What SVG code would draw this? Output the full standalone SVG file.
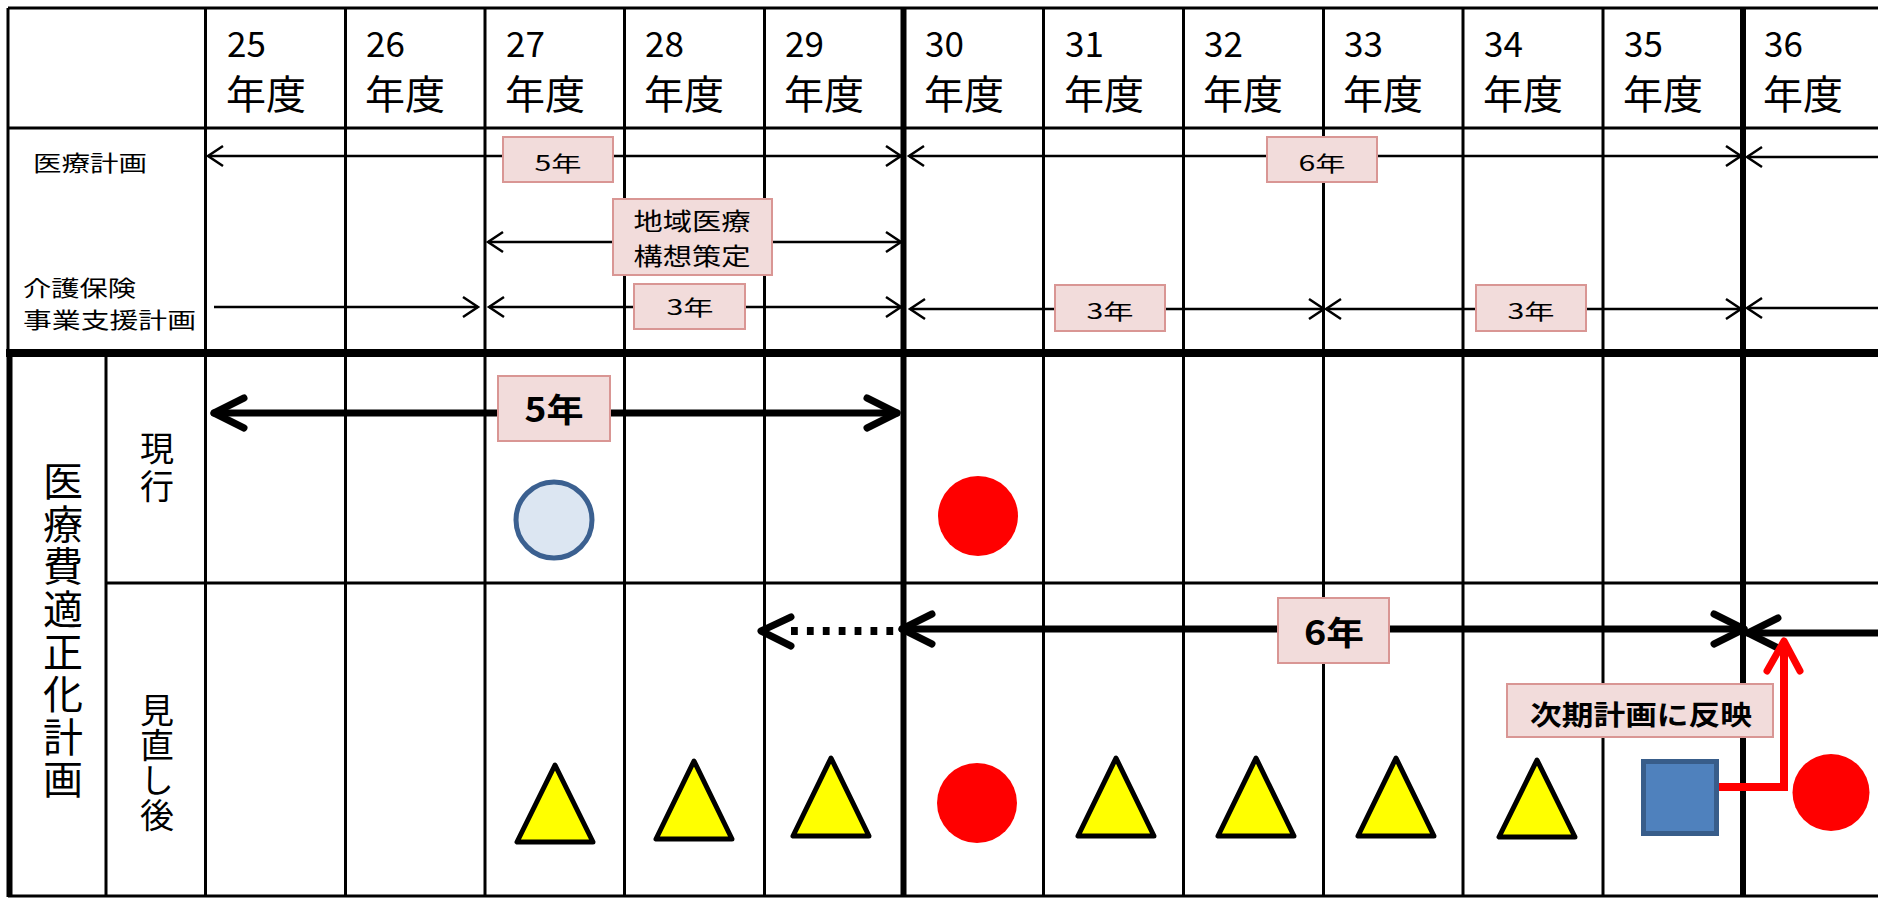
<svg xmlns="http://www.w3.org/2000/svg" width="1878" height="900" viewBox="0 0 1878 900">
<style>
.bg{fill:#fff}
.g{stroke:#000;stroke-width:3;fill:none}
.gk{stroke:#000;stroke-width:6;fill:none}
.thin{stroke:#000;stroke-width:2.5;fill:none}
.thick{stroke:#000;stroke-width:7;fill:none;stroke-linecap:round;stroke-linejoin:round}
.dot{stroke:#000;stroke-width:8;fill:none;stroke-dasharray:6.8 9.1}
.red{stroke:#ff0000;stroke-width:8;fill:none;stroke-linejoin:miter}
.redh{stroke:#ff0000;stroke-width:7;fill:none;stroke-linecap:round;stroke-linejoin:round}
.lbl{fill:#f2dcdb;stroke:#d99694;stroke-width:2}
.t{font-family:"Noto Sans CJK JP","Noto Sans",sans-serif;fill:#000}
.hd{font-size:40px}
.num{font-size:35px}
.sm{font-size:22px}
.bx{font-size:21px;text-anchor:middle}
.bb{font-size:33px;font-weight:bold;text-anchor:middle}
.vt{writing-mode:vertical-rl;text-orientation:upright}
.tri{fill:#ffff00;stroke:#000;stroke-width:5;stroke-linejoin:round}
.rc{fill:#ff0000}
</style>
<defs>
<marker id="ah" viewBox="-18 -13 22 26" refX="0" refY="0" markerWidth="22" markerHeight="26" markerUnits="userSpaceOnUse" orient="auto-start-reverse">
<path d="M-15,-10 L0,0 L-15,10" fill="none" stroke="#000" stroke-width="2.5"/>
</marker>
<marker id="ahb" viewBox="-36 -21 42 42" refX="0" refY="0" markerWidth="42" markerHeight="42" markerUnits="userSpaceOnUse" orient="auto-start-reverse">
<path d="M-30,-15 L0,0 L-30,15" fill="none" stroke="#000" stroke-width="7" stroke-linecap="round" stroke-linejoin="round"/>
</marker>
</defs>
<rect class="bg" x="0" y="0" width="1878" height="900"/>

<g id="grid">
<line class="g" x1="8" y1="8" x2="1878" y2="8"/>
<line class="g" x1="8" y1="128" x2="1878" y2="128"/>
<line class="g" x1="106" y1="583" x2="1878" y2="583"/>
<line class="g" x1="8" y1="896" x2="1878" y2="896"/>
<line class="g" x1="8" y1="8" x2="8" y2="353"/>
<line class="g" x1="106" y1="353" x2="106" y2="896"/>
<line class="g" x1="205.5" y1="8" x2="205.5" y2="896"/>
<line class="g" x1="345.5" y1="8" x2="345.5" y2="896"/>
<line class="g" x1="485" y1="8" x2="485" y2="896"/>
<line class="g" x1="624.5" y1="8" x2="624.5" y2="896"/>
<line class="g" x1="764.5" y1="8" x2="764.5" y2="896"/>
<line class="g" x1="1043.5" y1="8" x2="1043.5" y2="896"/>
<line class="g" x1="1183.5" y1="8" x2="1183.5" y2="896"/>
<line class="g" x1="1323.5" y1="8" x2="1323.5" y2="896"/>
<line class="g" x1="1463" y1="8" x2="1463" y2="896"/>
<line class="g" x1="1603" y1="8" x2="1603" y2="896"/>
<line class="gk" x1="903.5" y1="7" x2="903.5" y2="897"/>
<line class="gk" x1="1743" y1="7" x2="1743" y2="897"/>
<line class="gk" x1="9.5" y1="353" x2="9.5" y2="897"/>
<line stroke="#000" stroke-width="8" x1="6" y1="353" x2="1878" y2="353"/>
</g>

<g id="header" class="t">
<text class="num" x="227" y="57">25</text><text class="hd" x="226" y="109">年度</text>
<text class="num" x="366" y="57">26</text><text class="hd" x="365" y="109">年度</text>
<text class="num" x="506" y="57">27</text><text class="hd" x="505" y="109">年度</text>
<text class="num" x="645" y="57">28</text><text class="hd" x="644" y="109">年度</text>
<text class="num" x="785" y="57">29</text><text class="hd" x="784" y="109">年度</text>
<text class="num" x="925" y="57">30</text><text class="hd" x="924" y="109">年度</text>
<text class="num" x="1065" y="57">31</text><text class="hd" x="1064" y="109">年度</text>
<text class="num" x="1204" y="57">32</text><text class="hd" x="1203" y="109">年度</text>
<text class="num" x="1344" y="57">33</text><text class="hd" x="1343" y="109">年度</text>
<text class="num" x="1484" y="57">34</text><text class="hd" x="1483" y="109">年度</text>
<text class="num" x="1624" y="57">35</text><text class="hd" x="1623" y="109">年度</text>
<text class="num" x="1764" y="57">36</text><text class="hd" x="1763" y="109">年度</text>
</g>

<g id="row-labels" class="t">
<text class="sm" x="33" y="171" textLength="114" lengthAdjust="spacingAndGlyphs">医療計画</text>
<text class="sm" x="23" y="296" textLength="113" lengthAdjust="spacingAndGlyphs">介護保険</text>
<text class="sm" x="23" y="328" textLength="173" lengthAdjust="spacingAndGlyphs">事業支援計画</text>
<text class="vt" font-size="40" x="63" y="461" letter-spacing="2.6">医療費適正化計画</text>
<text class="vt" font-size="34" x="157" y="431" letter-spacing="4">現行</text>
<text class="vt" font-size="34" x="157" y="693" letter-spacing="1">見直し後</text>
</g>

<g id="connectors">
<path class="thin" d="M208,156 H901" marker-start="url(#ah)" marker-end="url(#ah)"/>
<path class="thin" d="M909,156 H1741" marker-start="url(#ah)" marker-end="url(#ah)"/>
<path class="thin" d="M1747,157 H1878" marker-start="url(#ah)"/>
<path class="thin" d="M488,242 H901" marker-start="url(#ah)" marker-end="url(#ah)"/>
<path class="thin" d="M214,307 H478" marker-end="url(#ah)"/>
<path class="thin" d="M489,307 H901" marker-start="url(#ah)" marker-end="url(#ah)"/>
<path class="thin" d="M910,309 H1324" marker-start="url(#ah)" marker-end="url(#ah)"/>
<path class="thin" d="M1326,309 H1741" marker-start="url(#ah)" marker-end="url(#ah)"/>
<path class="thin" d="M1747,308 H1878" marker-start="url(#ah)"/>
<path class="thick" d="M214,413 H897" marker-start="url(#ahb)" marker-end="url(#ahb)"/>
<path class="thick" d="M902,629 H1744" marker-start="url(#ahb)" marker-end="url(#ahb)"/>
<path class="thick" d="M1748,633 H1878" marker-start="url(#ahb)"/>
<path class="dot" d="M791,631 H894"/>
<path class="thick" d="M791,617 L761,631 L791,646"/>
<polyline class="red" points="1718,787 1784,787 1784,645"/>
<path class="redh" d="M1767,671 L1784,641 L1800,671"/>
</g>

<g id="label-5y-top"><rect class="lbl" x="503" y="137" width="110" height="45"/><text class="t bx" x="558" y="171" textLength="47" lengthAdjust="spacingAndGlyphs">5年</text></g>
<g id="label-6y-top"><rect class="lbl" x="1267" y="137" width="110" height="45"/><text class="t bx" x="1322" y="171" textLength="47" lengthAdjust="spacingAndGlyphs">6年</text></g>
<g id="label-chiiki"><rect class="lbl" x="613" y="199" width="159" height="76"/><text class="t" font-size="24" text-anchor="middle" x="692" y="230" textLength="117" lengthAdjust="spacingAndGlyphs">地域医療</text><text class="t" font-size="24" text-anchor="middle" x="692" y="265" textLength="117" lengthAdjust="spacingAndGlyphs">構想策定</text></g>
<g id="label-3y-a"><rect class="lbl" x="634" y="284" width="111" height="45"/><text class="t bx" x="690" y="315" textLength="47" lengthAdjust="spacingAndGlyphs">3年</text></g>
<g id="label-3y-b"><rect class="lbl" x="1055" y="285" width="110" height="46"/><text class="t bx" x="1110" y="319" textLength="47" lengthAdjust="spacingAndGlyphs">3年</text></g>
<g id="label-3y-c"><rect class="lbl" x="1476" y="285" width="110" height="46"/><text class="t bx" x="1531" y="319" textLength="47" lengthAdjust="spacingAndGlyphs">3年</text></g>
<g id="label-5y-now"><rect class="lbl" x="498" y="376" width="112" height="65"/><text class="t bb" x="554" y="422" textLength="59" lengthAdjust="spacingAndGlyphs">5年</text></g>
<g id="label-6y-new"><rect class="lbl" x="1278" y="598" width="111" height="65"/><text class="t bb" x="1334" y="645" textLength="60" lengthAdjust="spacingAndGlyphs">6年</text></g>
<g id="label-next"><rect class="lbl" x="1507" y="684" width="266" height="53"/><text class="t" font-size="27" font-weight="bold" text-anchor="middle" x="1641" y="725" textLength="222" lengthAdjust="spacingAndGlyphs">次期計画に反映</text></g>

<g id="circle-27-now"><circle cx="554" cy="520" r="38" fill="#dce6f2" stroke="#3b6090" stroke-width="5"/></g>
<g id="circle-30-now"><circle class="rc" cx="978" cy="516" r="40"/></g>
<g id="tri-27"><polygon class="tri" points="555,765 517,842 593,842"/></g>
<g id="tri-28"><polygon class="tri" points="694,761 656,839 732,839"/></g>
<g id="tri-29"><polygon class="tri" points="831,758 793,836 869,836"/></g>
<g id="circle-30-new"><circle class="rc" cx="977" cy="803" r="40"/></g>
<g id="tri-31"><polygon class="tri" points="1116,758 1078,836 1154,836"/></g>
<g id="tri-32"><polygon class="tri" points="1256,758 1218,836 1294,836"/></g>
<g id="tri-33"><polygon class="tri" points="1396,758 1358,836 1434,836"/></g>
<g id="tri-34"><polygon class="tri" points="1537,760 1499,837 1575,837"/></g>
<g id="square-35"><rect x="1643.5" y="761.5" width="73" height="72" fill="#4f81bd" stroke="#385d8a" stroke-width="5"/></g>
<g id="circle-36"><circle class="rc" cx="1831" cy="792.5" r="38.5"/></g>
</svg>
